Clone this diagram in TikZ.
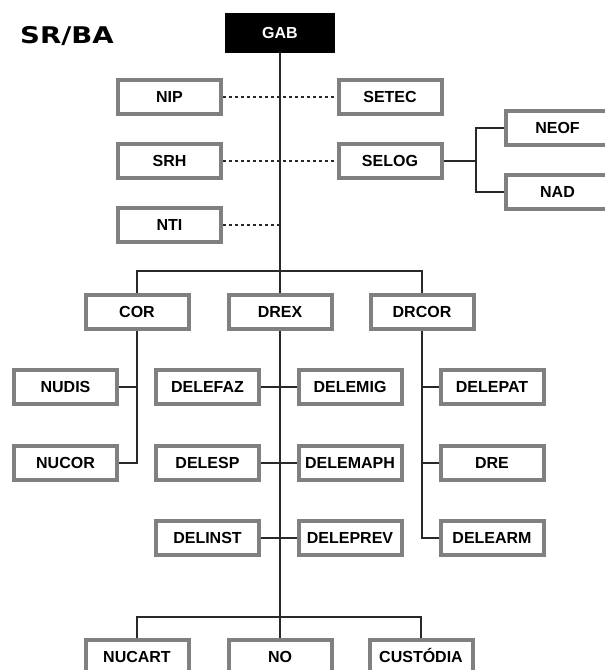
\documentclass[tikz,border=0pt]{standalone}
\usepackage{fontspec}
\setmainfont{Liberation Sans}
\newfontfamily\titlefont{DejaVu Sans}
\definecolor{boxgray}{RGB}{128,128,128}
\definecolor{linegray}{RGB}{40,40,40}
\begin{document}
\begin{tikzpicture}[x=1pt,y=-1pt,
  orgbox/.style={draw=boxgray, line width=4pt, fill=white, minimum width=103pt, minimum height=34pt,
    inner sep=0pt, text height=11.5pt, text depth=0pt, font=\fontsize{16}{18}\selectfont\bfseries, text=black},
  conn/.style={draw=linegray, line width=1.15pt},
  dotconn/.style={draw=linegray, line width=1.1pt, dash pattern=on 3pt off 3pt}]
\useasboundingbox (0,0) rectangle (605,670);
\clip (0,0) rectangle (605,670);
\fill[white] (0,0) rectangle (605,670);

\node[anchor=west, inner sep=0pt, font=\titlefont\fontsize{23}{25}\selectfont\bfseries] (title) at (20,36) {\scalebox{1.2}[1]{SR/BA}};

\node[fill=black, minimum width=110pt, minimum height=40pt, inner sep=0pt, text=white,
  text height=11.5pt, text depth=0pt,
  font=\fontsize{16}{18}\selectfont\bfseries] (gab) at (280,33) {GAB};

\node[orgbox] (nip) at (169.5,97) {NIP};
\node[orgbox] (setec) at (390,97) {SETEC};
\node[orgbox] (srh) at (169.5,161) {SRH};
\node[orgbox] (selog) at (390,161) {SELOG};
\node[orgbox] (nti) at (169.5,225) {NTI};
\node[orgbox] (neof) at (557.5,128) {NEOF};
\node[orgbox] (nad) at (557.5,192) {NAD};

\node[orgbox] (cor) at (137,312) {COR};
\node[orgbox] (drex) at (280,312) {DREX};
\node[orgbox] (drcor) at (422,312) {DRCOR};

\node[orgbox] (nudis) at (65.5,387) {NUDIS};
\node[orgbox] (delefaz) at (207.5,387) {DELEFAZ};
\node[orgbox] (delemig) at (350,387) {DELEMIG};
\node[orgbox] (delepat) at (492,387) {DELEPAT};

\node[orgbox] (nucor) at (65.5,463) {NUCOR};
\node[orgbox] (delesp) at (207.5,463) {DELESP};
\node[orgbox] (delemaph) at (350,463) {DELEMAPH};
\node[orgbox] (dre) at (492,463) {DRE};

\node[orgbox] (delinst) at (207.5,538) {DELINST};
\node[orgbox] (deleprev) at (350,538) {DELEPREV};
\node[orgbox] (delearm) at (492,538) {DELEARM};

\node[orgbox] (nucart) at (137,657) {NUCART};
\node[orgbox] (no) at (280,657) {NO};
\node[orgbox] (custodia) at (421,657) {CUSTÓDIA};

\coordinate (bus1) at (280,271);
\coordinate (bus2) at (280,617);
\coordinate (jsel) at (476,161);

% main trunk
\draw[conn] (gab.south) -- (drex.north);
\draw[conn] (drex.south) -- (no.north);
\draw[conn] (cor.north) |- (bus1) -| (drcor.north);
\draw[conn] (nucart.north) |- (bus2) -| (custodia.north);

% dotted staff links
\draw[dotconn] (nip.east) -- (setec.west);
\draw[dotconn] (srh.east) -- (selog.west);
\draw[dotconn] (nti.east) -- (nti.east -| gab.south);

% SELOG branch
\draw[conn] (selog.east) -- (jsel);
\draw[conn] (neof.west) -| (jsel) |- (nad.west);

% COR branch
\draw[conn] (cor.south) |- (nucor.east);
\draw[conn] (nudis.east) -- (nudis.east -| cor.south);

% DREX branch
\draw[conn] (delefaz.east) -- (delemig.west);
\draw[conn] (delesp.east) -- (delemaph.west);
\draw[conn] (delinst.east) -- (deleprev.west);

% DRCOR branch
\draw[conn] (drcor.south) |- (delearm.west);
\draw[conn] (delepat.west) -- (delepat.west -| drcor.south);
\draw[conn] (dre.west) -- (dre.west -| drcor.south);
\end{tikzpicture}
\end{document}
